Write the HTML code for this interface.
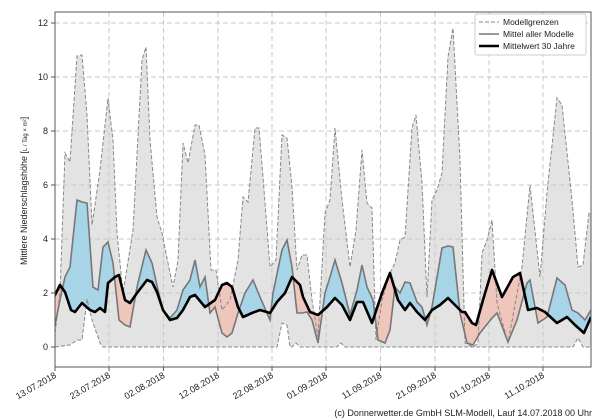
<!DOCTYPE html>
<html><head><meta charset="utf-8"><style>
html,body{margin:0;padding:0;background:#fff;}
svg{display:block;font-family:"Liberation Sans","DejaVu Sans",sans-serif;}
</style></head><body>
<svg width="600" height="420" viewBox="0 0 600 420" xmlns="http://www.w3.org/2000/svg">
<defs>
<clipPath id="plot"><rect x="55" y="12" width="536" height="355"/></clipPath>
<clipPath id="above"><polygon points="55,0 591,0 591,317 584,333 575,325 567,317 557,323 545,312 537,308 528,310 520,273 513,277 502,297 492,270 483,300 476,325 472,323 465,312 462,312 455,305 448,298 440,305 432,310 425,320 417,312 410,303 405,310 398,300 390,273 382,293 372,323 363,302 357,302 350,320 342,305 335,298 327,307 318,315 310,312 303,297 300,285 292,277 285,293 277,302 270,313 260,310 252,313 243,317 238,307 232,287 227,283 222,285 215,300 205,307 195,295 190,297 183,310 177,318 170,320 163,310 157,292 152,282 147,280 137,293 130,303 125,300 119,275 115,277 108,283 105,312 100,308 95,312 90,310 82,303 75,312 71,310 65,292 60,285 55,297"/></clipPath>
<clipPath id="below"><polygon points="55,420 591,420 591,317 584,333 575,325 567,317 557,323 545,312 537,308 528,310 520,273 513,277 502,297 492,270 483,300 476,325 472,323 465,312 462,312 455,305 448,298 440,305 432,310 425,320 417,312 410,303 405,310 398,300 390,273 382,293 372,323 363,302 357,302 350,320 342,305 335,298 327,307 318,315 310,312 303,297 300,285 292,277 285,293 277,302 270,313 260,310 252,313 243,317 238,307 232,287 227,283 222,285 215,300 205,307 195,295 190,297 183,310 177,318 170,320 163,310 157,292 152,282 147,280 137,293 130,303 125,300 119,275 115,277 108,283 105,312 100,308 95,312 90,310 82,303 75,312 71,310 65,292 60,285 55,297"/></clipPath>
</defs>
<rect x="55" y="12" width="536" height="355" fill="#fff"/>
<g clip-path="url(#plot)">
<polygon fill="#e3e3e3" points="55,333 60,293 65,153 70,162 77,56 82,55 87,115 92,225 100,170 108,98 113,140 117,233 123,293 133,230 142,60 146,47 150,140 157,217 162,233 168,263 173,287 178,260 183,143 188,163 195,125 199,125 205,155 211,270 216,270 222,310 230,300 238,260 243,197 248,202 255,128 259,128 263,177 270,267 276,260 282,135 287,138 292,187 297,270 302,255 307,255 312,300 318,337 325,213 330,200 335,128 342,200 350,267 356,230 362,150 367,203 372,208 376,340 382,300 390,273 395,263 400,240 405,237 412,128 416,115 422,183 427,297 432,200 437,190 442,173 448,57 453,28 460,160 465,343 473,347 478,343 482,253 487,240 492,220 497,303 508,343 522,267 530,185 540,277 547,193 557,98 562,105 572,200 578,267 583,265 589,213 591,213 591,347 583,347 578,338 573,347 345,347 341,343 337,347 300,347 296,343 292,347 290,347 287,325 282,323 277,347 103,347 100,343 92,320 87,299 82,340 77,340 70,345 55,347"/>
</g>
<g stroke="#c8c8c8" stroke-width="1" stroke-dasharray="5,3" fill="none">
<line x1="55" x2="591" y1="23" y2="23"/><line x1="55" x2="591" y1="77" y2="77"/><line x1="55" x2="591" y1="131" y2="131"/><line x1="55" x2="591" y1="185" y2="185"/><line x1="55" x2="591" y1="239" y2="239"/><line x1="55" x2="591" y1="293" y2="293"/>
<line y1="12" y2="367" x1="109" x2="109"/><line y1="12" y2="367" x1="163.5" x2="163.5"/><line y1="12" y2="367" x1="218" x2="218"/><line y1="12" y2="367" x1="272" x2="272"/><line y1="12" y2="367" x1="326" x2="326"/><line y1="12" y2="367" x1="380.5" x2="380.5"/><line y1="12" y2="367" x1="435" x2="435"/><line y1="12" y2="367" x1="489" x2="489"/><line y1="12" y2="367" x1="543" x2="543"/>
</g>
<g clip-path="url(#plot)">
<polygon clip-path="url(#above)" fill="#a8d4e8" points="54,330 60,300 65,277 70,267 77,200 82,202 87,203 93,287 98,290 103,247 108,242 113,263 119,320 125,325 130,327 137,287 146,250 152,263 158,290 163,310 170,318 177,310 183,290 190,280 195,260 200,287 205,277 210,313 215,307 222,333 227,337 232,333 238,313 245,293 253,280 260,297 270,320 273,293 282,250 287,240 292,267 297,313 302,313 307,312 312,320 318,343 325,293 330,277 335,260 342,283 350,315 357,290 362,265 367,287 373,300 378,340 385,343 390,330 395,287 400,293 405,282 410,283 417,302 422,307 427,325 432,307 442,248 448,246 453,247 460,313 467,343 473,345 480,333 492,318 497,313 508,342 517,320 527,283 530,280 538,323 547,317 557,278 565,285 572,310 578,313 585,320 591,310 591,317 584,333 575,325 567,317 557,323 545,312 537,308 528,310 520,273 513,277 502,297 492,270 483,300 476,325 472,323 465,312 462,312 455,305 448,298 440,305 432,310 425,320 417,312 410,303 405,310 398,300 390,273 382,293 372,323 363,302 357,302 350,320 342,305 335,298 327,307 318,315 310,312 303,297 300,285 292,277 285,293 277,302 270,313 260,310 252,313 243,317 238,307 232,287 227,283 222,285 215,300 205,307 195,295 190,297 183,310 177,318 170,320 163,310 157,292 152,282 147,280 137,293 130,303 125,300 119,275 115,277 108,283 105,312 100,308 95,312 90,310 82,303 75,312 71,310 65,292 60,285 54,297"/>
<polygon clip-path="url(#below)" fill="#efc6bc" points="54,330 60,300 65,277 70,267 77,200 82,202 87,203 93,287 98,290 103,247 108,242 113,263 119,320 125,325 130,327 137,287 146,250 152,263 158,290 163,310 170,318 177,310 183,290 190,280 195,260 200,287 205,277 210,313 215,307 222,333 227,337 232,333 238,313 245,293 253,280 260,297 270,320 273,293 282,250 287,240 292,267 297,313 302,313 307,312 312,320 318,343 325,293 330,277 335,260 342,283 350,315 357,290 362,265 367,287 373,300 378,340 385,343 390,330 395,287 400,293 405,282 410,283 417,302 422,307 427,325 432,307 442,248 448,246 453,247 460,313 467,343 473,345 480,333 492,318 497,313 508,342 517,320 527,283 530,280 538,323 547,317 557,278 565,285 572,310 578,313 585,320 591,310 591,317 584,333 575,325 567,317 557,323 545,312 537,308 528,310 520,273 513,277 502,297 492,270 483,300 476,325 472,323 465,312 462,312 455,305 448,298 440,305 432,310 425,320 417,312 410,303 405,310 398,300 390,273 382,293 372,323 363,302 357,302 350,320 342,305 335,298 327,307 318,315 310,312 303,297 300,285 292,277 285,293 277,302 270,313 260,310 252,313 243,317 238,307 232,287 227,283 222,285 215,300 205,307 195,295 190,297 183,310 177,318 170,320 163,310 157,292 152,282 147,280 137,293 130,303 125,300 119,275 115,277 108,283 105,312 100,308 95,312 90,310 82,303 75,312 71,310 65,292 60,285 54,297"/>
<polyline fill="none" stroke="#888" stroke-width="1" stroke-dasharray="4,2" points="55,333 60,293 65,153 70,162 77,56 82,55 87,115 92,225 100,170 108,98 113,140 117,233 123,293 133,230 142,60 146,47 150,140 157,217 162,233 168,263 173,287 178,260 183,143 188,163 195,125 199,125 205,155 211,270 216,270 222,310 230,300 238,260 243,197 248,202 255,128 259,128 263,177 270,267 276,260 282,135 287,138 292,187 297,270 302,255 307,255 312,300 318,337 325,213 330,200 335,128 342,200 350,267 356,230 362,150 367,203 372,208 376,340 382,300 390,273 395,263 400,240 405,237 412,128 416,115 422,183 427,297 432,200 437,190 442,173 448,57 453,28 460,160 465,343 473,347 478,343 482,253 487,240 492,220 497,303 508,343 522,267 530,185 540,277 547,193 557,98 562,105 572,200 578,267 583,265 589,213 591,213"/>
<polyline fill="none" stroke="#888" stroke-width="1" stroke-dasharray="4,2" points="55,347 70,345 77,340 82,340 87,299 92,320 100,343 103,347 277,347 282,323 287,325 290,347 292,347 296,343 300,347 337,347 341,343 345,347 573,347 578,338 583,347 591,347"/>
<polyline fill="none" stroke="#777" stroke-width="1.6" points="54,330 60,300 65,277 70,267 77,200 82,202 87,203 93,287 98,290 103,247 108,242 113,263 119,320 125,325 130,327 137,287 146,250 152,263 158,290 163,310 170,318 177,310 183,290 190,280 195,260 200,287 205,277 210,313 215,307 222,333 227,337 232,333 238,313 245,293 253,280 260,297 270,320 273,293 282,250 287,240 292,267 297,313 302,313 307,312 312,320 318,343 325,293 330,277 335,260 342,283 350,315 357,290 362,265 367,287 373,300 378,340 385,343 390,330 395,287 400,293 405,282 410,283 417,302 422,307 427,325 432,307 442,248 448,246 453,247 460,313 467,343 473,345 480,333 492,318 497,313 508,342 517,320 527,283 530,280 538,323 547,317 557,278 565,285 572,310 578,313 585,320 591,310"/>
<polyline fill="none" stroke="#000" stroke-width="2.6" stroke-linejoin="round" points="54,297 60,285 65,292 71,310 75,312 82,303 90,310 95,312 100,308 105,312 108,283 115,277 119,275 125,300 130,303 137,293 147,280 152,282 157,292 163,310 170,320 177,318 183,310 190,297 195,295 205,307 215,300 222,285 227,283 232,287 238,307 243,317 252,313 260,310 270,313 277,302 285,293 292,277 300,285 303,297 310,312 318,315 327,307 335,298 342,305 350,320 357,302 363,302 372,323 382,293 390,273 398,300 405,310 410,303 417,312 425,320 432,310 440,305 448,298 455,305 462,312 465,312 472,323 476,325 483,300 492,270 502,297 513,277 520,273 528,310 537,308 545,312 557,323 567,317 575,325 584,333 591,317"/>
</g>
<rect x="55" y="12" width="536" height="355" fill="none" stroke="#555" stroke-width="1"/>
<g font-size="9" fill="#222" text-anchor="end">
<text x="48" y="350">0</text><text x="48" y="296">2</text><text x="48" y="242">4</text><text x="48" y="188">6</text><text x="48" y="134">8</text><text x="48" y="80">10</text><text x="48" y="26">12</text>
</g>
<g stroke="#555"><line x1="51" x2="55" y1="347" y2="347"/><line x1="51" x2="55" y1="293" y2="293"/><line x1="51" x2="55" y1="239" y2="239"/><line x1="51" x2="55" y1="185" y2="185"/><line x1="51" x2="55" y1="131" y2="131"/><line x1="51" x2="55" y1="77" y2="77"/><line x1="51" x2="55" y1="23" y2="23"/>
<line y1="367" y2="371" x1="55" x2="55"/><line y1="367" y2="371" x1="109" x2="109"/><line y1="367" y2="371" x1="163.5" x2="163.5"/><line y1="367" y2="371" x1="218" x2="218"/><line y1="367" y2="371" x1="272" x2="272"/><line y1="367" y2="371" x1="326" x2="326"/><line y1="367" y2="371" x1="380.5" x2="380.5"/><line y1="367" y2="371" x1="435" x2="435"/><line y1="367" y2="371" x1="489" x2="489"/><line y1="367" y2="371" x1="543" x2="543"/></g>
<g font-size="9" fill="#222" text-anchor="end">
<text transform="translate(57,377) rotate(-30)">13.07.2018</text>
<text transform="translate(111,377) rotate(-30)">23.07.2018</text>
<text transform="translate(165.5,377) rotate(-30)">02.08.2018</text>
<text transform="translate(220,377) rotate(-30)">12.08.2018</text>
<text transform="translate(274,377) rotate(-30)">22.08.2018</text>
<text transform="translate(328,377) rotate(-30)">01.09.2018</text>
<text transform="translate(382.5,377) rotate(-30)">11.09.2018</text>
<text transform="translate(437,377) rotate(-30)">21.09.2018</text>
<text transform="translate(491,377) rotate(-30)">01.10.2018</text>
<text transform="translate(545,377) rotate(-30)">11.10.2018</text>
</g>
<text transform="translate(27,265) rotate(-90)" font-size="9" fill="#222">Mittlere Niederschlagshöhe [<tspan font-size="6">L / Tag × m²</tspan>]</text>
<rect x="475" y="14" width="111" height="41" fill="#fff" fill-opacity="0.9" stroke="#ccc" rx="2"/>
<line x1="479" x2="499" y1="22" y2="22" stroke="#888" stroke-dasharray="4,2"/>
<line x1="479" x2="499" y1="34" y2="34" stroke="#777" stroke-width="1.6"/>
<line x1="479" x2="499" y1="46" y2="46" stroke="#000" stroke-width="2.6"/>
<g font-size="8.5" fill="#222"><text x="503" y="25">Modellgrenzen</text><text x="503" y="37">Mittel aller Modelle</text><text x="503" y="49">Mittelwert 30 Jahre</text></g>
<text x="592" y="416" font-size="9" fill="#222" text-anchor="end">(c) Donnerwetter.de GmbH SLM-Modell, Lauf 14.07.2018 00 Uhr</text>
</svg>
</body></html>
